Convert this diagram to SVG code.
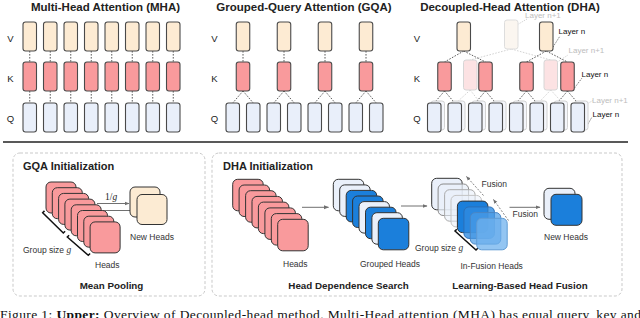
<svg xmlns="http://www.w3.org/2000/svg" width="640" height="318" viewBox="0 0 640 318">
<defs>
<style>
.v{fill:#FDEBD3;stroke:#4a4a4a;stroke-width:1.1}
.k{fill:#F99A9C;stroke:#4a4a4a;stroke-width:1.1}
.q{fill:#E9EFFA;stroke:#4a4a4a;stroke-width:1.1}
.fv{fill:#FBF6F0;stroke:#DDDDDD;stroke-width:1}
.fk{fill:#FCE2E3;stroke:#D6D6D6;stroke-width:1}
.fq{fill:#F4F6FB;stroke:#D2D2D2;stroke-width:1}
.c{stroke:#333;stroke-width:0.8;stroke-dasharray:1.6 1.4;fill:none}
.fc{stroke:#C8C8C8;stroke-width:0.8;stroke-dasharray:1.6 1.4;fill:none}
.ld{stroke:#333;stroke-width:0.8;stroke-dasharray:1 1.2;fill:none}
.lf{stroke:#BBBBBB;stroke-width:0.8;stroke-dasharray:1 1.2;fill:none}
text{font-family:"Liberation Sans",Arial,sans-serif;fill:#222}
.t{font-size:11.5px;font-weight:bold;text-anchor:middle}
.rl{font-size:9.5px;text-anchor:middle}
.ly{font-size:8px;fill:#111}
.lyf{font-size:8px;fill:#BDBDBD}
.sm{font-size:8.5px;fill:#333}
.bt{font-size:11px;font-weight:bold}
.st{font-size:9.8px;font-weight:bold;text-anchor:middle}
.panel{fill:none;stroke:#C9C9C9;stroke-width:1;stroke-dasharray:3 2}
.hr{fill:#F99A9C;stroke:#333;stroke-width:1}
.hc{fill:#FCEBD3;stroke:#333;stroke-width:1}
.hl{fill:#EAF0FA;stroke:#333;stroke-width:1}
.hb{fill:#1B7FDB;stroke:#333;stroke-width:1}
.ar{stroke:#707070;stroke-width:1;fill:none}
.fa{stroke:#777;stroke-width:0.9;stroke-dasharray:2 1.5;fill:none}
.br{stroke:#111;stroke-width:1.5;fill:none}
</style>
<marker id="ah" viewBox="0 0 10 10" refX="9" refY="5" markerWidth="5" markerHeight="5" orient="auto">
<path d="M0,1 L10,5 L0,9 z" fill="#707070"/>
</marker>
</defs>
<rect width="640" height="318" fill="#fff"/>

<!-- Titles -->
<text class="t" x="105.5" y="10.5">Multi-Head Attention (MHA)</text>
<text class="t" x="304" y="10.5">Grouped-Query Attention (GQA)</text>
<text class="t" x="510" y="10.5">Decoupled-Head Attention (DHA)</text>

<!-- row labels -->
<g id="row-labels">
<text class="rl" x="10.5" y="41.5">V</text><text class="rl" x="10.5" y="82">K</text><text class="rl" x="10.5" y="122">Q</text>
<text class="rl" x="214.5" y="41.5">V</text><text class="rl" x="214.5" y="82">K</text><text class="rl" x="214.5" y="122">Q</text>
<text class="rl" x="417" y="41.5">V</text><text class="rl" x="417" y="82">K</text><text class="rl" x="417" y="122">Q</text>
</g>

<!-- connectors -->
<g id="connectors">
<!-- MHA verticals -->
<path class="c" d="M29.75,51V62M29.75,91V103M50.25,51V62M50.25,91V103M70.75,51V62M70.75,91V103M91.25,51V62M91.25,91V103M111.75,51V62M111.75,91V103M132.25,51V62M132.25,91V103M152.75,51V62M152.75,91V103M173.25,51V62M173.25,91V103"/>
<!-- GQA -->
<path class="c" d="M243,51V62M284,51V62M325,51V62M366,51V62"/>
<path class="c" d="M243,91L232.75,103M243,91L253.25,103M284,91L273.75,103M284,91L294.25,103M325,91L314.75,103M325,91L335.25,103M366,91L355.75,103M366,91L376.25,103"/>
<!-- DHA faded -->
<path class="fc" d="M511.25,49L470.25,60M511.25,49L550.75,60M470.25,90L458.25,101M470.25,90L478.75,101M550.75,90L540.25,101M550.75,90L560.75,101"/>
<!-- DHA layer n -->
<path class="c" d="M463.75,51L444.5,62M463.75,51L485.5,62M546.25,51L526.5,62M546.25,51L567.5,62"/>
<path class="c" d="M444.5,91L434.25,103M444.5,91L454.75,103M485.5,91L475.25,103M485.5,91L495.75,103M526.5,91L516.25,103M526.5,91L536.75,103M567.5,91L557.25,103M567.5,91L577.75,103"/>
<!-- leaders -->
<path class="lf" d="M518.5,24L527,19M557.5,62L568,55M588.5,103L593,100.5"/>
<path class="ld" d="M553,47L560,36M574.5,88L582,78M584.5,130L592,117"/>
<!-- init arrows -->
<path class="ar" marker-end="url(#ah)" d="M97,203.5H129"/>
<path class="ar" marker-end="url(#ah)" d="M99,210.5H136"/>
<path class="ar" marker-end="url(#ah)" d="M302,207.3H328.5"/>
<path class="ar" marker-end="url(#ah)" d="M401,206H427"/>
<path class="ar" marker-end="url(#ah)" d="M509.5,207.3H540"/>
<path class="fa" marker-end="url(#ah)" d="M483.5,195.5L466.5,176.5"/>
<path class="fa" marker-end="url(#ah)" d="M508.5,220.5L493.5,199.5"/>
<!-- group size brackets -->
<path class="br" d="M44.5,210.9L42.7,212.7L63.3,233L65.1,231.2"/>
<path class="br" d="M69.1,235.2L67.3,237L88.3,255.3L90.1,253.5"/>
<path class="br" d="M456.8,229.2L455,231L476,250L477.8,248.2"/>
</g>

<!-- MHA nodes -->
<g id="mha">
<g id="mha-v"><rect class="v" x="23" y="22" width="13.5" height="29" rx="2.5"/><rect class="v" x="43.5" y="22" width="13.5" height="29" rx="2.5"/><rect class="v" x="64" y="22" width="13.5" height="29" rx="2.5"/><rect class="v" x="84.5" y="22" width="13.5" height="29" rx="2.5"/><rect class="v" x="105" y="22" width="13.5" height="29" rx="2.5"/><rect class="v" x="125.5" y="22" width="13.5" height="29" rx="2.5"/><rect class="v" x="146" y="22" width="13.5" height="29" rx="2.5"/><rect class="v" x="166.5" y="22" width="13.5" height="29" rx="2.5"/></g>
<g id="mha-k"><rect class="k" x="23" y="62" width="13.5" height="29" rx="2.5"/><rect class="k" x="43.5" y="62" width="13.5" height="29" rx="2.5"/><rect class="k" x="64" y="62" width="13.5" height="29" rx="2.5"/><rect class="k" x="84.5" y="62" width="13.5" height="29" rx="2.5"/><rect class="k" x="105" y="62" width="13.5" height="29" rx="2.5"/><rect class="k" x="125.5" y="62" width="13.5" height="29" rx="2.5"/><rect class="k" x="146" y="62" width="13.5" height="29" rx="2.5"/><rect class="k" x="166.5" y="62" width="13.5" height="29" rx="2.5"/></g>
<g id="mha-q"><rect class="q" x="23" y="103" width="13.5" height="29" rx="2.5"/><rect class="q" x="43.5" y="103" width="13.5" height="29" rx="2.5"/><rect class="q" x="64" y="103" width="13.5" height="29" rx="2.5"/><rect class="q" x="84.5" y="103" width="13.5" height="29" rx="2.5"/><rect class="q" x="105" y="103" width="13.5" height="29" rx="2.5"/><rect class="q" x="125.5" y="103" width="13.5" height="29" rx="2.5"/><rect class="q" x="146" y="103" width="13.5" height="29" rx="2.5"/><rect class="q" x="166.5" y="103" width="13.5" height="29" rx="2.5"/></g>
</g>

<!-- GQA nodes -->
<g id="gqa">
<g id="gqa-v"><rect class="v" x="236.25" y="22" width="13.5" height="29" rx="2.5"/><rect class="v" x="277.25" y="22" width="13.5" height="29" rx="2.5"/><rect class="v" x="318.25" y="22" width="13.5" height="29" rx="2.5"/><rect class="v" x="359.25" y="22" width="13.5" height="29" rx="2.5"/></g>
<g id="gqa-k"><rect class="k" x="236.25" y="62" width="13.5" height="29" rx="2.5"/><rect class="k" x="277.25" y="62" width="13.5" height="29" rx="2.5"/><rect class="k" x="318.25" y="62" width="13.5" height="29" rx="2.5"/><rect class="k" x="359.25" y="62" width="13.5" height="29" rx="2.5"/></g>
<g id="gqa-q"><rect class="q" x="226" y="103" width="13.5" height="29" rx="2.5"/><rect class="q" x="246.5" y="103" width="13.5" height="29" rx="2.5"/><rect class="q" x="267" y="103" width="13.5" height="29" rx="2.5"/><rect class="q" x="287.5" y="103" width="13.5" height="29" rx="2.5"/><rect class="q" x="308" y="103" width="13.5" height="29" rx="2.5"/><rect class="q" x="328.5" y="103" width="13.5" height="29" rx="2.5"/><rect class="q" x="349" y="103" width="13.5" height="29" rx="2.5"/><rect class="q" x="369.5" y="103" width="13.5" height="29" rx="2.5"/></g>
</g>

<!-- DHA nodes -->
<g id="dha">
<g id="dha-v-n1"><rect class="fv" x="504.5" y="20" width="13.5" height="29" rx="2.5"/></g>
<g id="dha-v"><rect class="v" x="457" y="22" width="13.5" height="29" rx="2.5"/><rect class="v" x="539.5" y="22" width="13.5" height="29" rx="2.5"/></g>
<g id="dha-k-n1"><rect class="fk" x="463.5" y="60" width="13.5" height="30" rx="2.5"/><rect class="fk" x="544" y="60" width="13.5" height="30" rx="2.5"/></g>
<g id="dha-k"><rect class="k" x="437.75" y="62" width="13.5" height="29" rx="2.5"/><rect class="k" x="478.75" y="62" width="13.5" height="29" rx="2.5"/><rect class="k" x="519.75" y="62" width="13.5" height="29" rx="2.5"/><rect class="k" x="560.75" y="62" width="13.5" height="29" rx="2.5"/></g>
<g id="dha-q-n1"><rect class="fq" x="431" y="101" width="13.5" height="29" rx="2.5"/><rect class="fq" x="451.5" y="101" width="13.5" height="29" rx="2.5"/><rect class="fq" x="472" y="101" width="13.5" height="29" rx="2.5"/><rect class="fq" x="492.5" y="101" width="13.5" height="29" rx="2.5"/><rect class="fq" x="513" y="101" width="13.5" height="29" rx="2.5"/><rect class="fq" x="533.5" y="101" width="13.5" height="29" rx="2.5"/><rect class="fq" x="554" y="101" width="13.5" height="29" rx="2.5"/><rect class="fq" x="574.5" y="101" width="13.5" height="29" rx="2.5"/></g>
<g id="dha-q"><rect class="q" x="427.5" y="103" width="13.5" height="29" rx="2.5"/><rect class="q" x="448" y="103" width="13.5" height="29" rx="2.5"/><rect class="q" x="468.5" y="103" width="13.5" height="29" rx="2.5"/><rect class="q" x="489" y="103" width="13.5" height="29" rx="2.5"/><rect class="q" x="509.5" y="103" width="13.5" height="29" rx="2.5"/><rect class="q" x="530" y="103" width="13.5" height="29" rx="2.5"/><rect class="q" x="550.5" y="103" width="13.5" height="29" rx="2.5"/><rect class="q" x="571" y="103" width="13.5" height="29" rx="2.5"/></g>
<g id="dha-layer-labels">
<text class="lyf" x="525" y="18">Layer n+1</text>
<text class="ly" x="558.5" y="33.5">Layer n</text>
<text class="lyf" x="568.5" y="53">Layer n+1</text>
<text class="ly" x="581.5" y="76.5">Layer n</text>
<text class="lyf" x="592" y="103">Layer n+1</text>
<text class="ly" x="592.5" y="116.5">Layer n</text>
</g>
</g>

<!-- separator -->
<line x1="3" y1="142" x2="628" y2="142" stroke="#222" stroke-width="1.3"/>

<!-- panels -->
<rect class="panel" x="13" y="153" width="192" height="143" rx="7"/>
<rect class="panel" x="212" y="153" width="410" height="143" rx="7"/>

<!-- GQA init -->
<g id="gqa-init">
<text class="bt" x="23" y="170">GQA Initialization</text>
<g id="gqa-heads">
<rect class="hr" x="46" y="182" width="30" height="31" rx="5"/>
<rect class="hr" x="52.3" y="187.7" width="30" height="31" rx="5"/>
<rect class="hr" x="58.6" y="193.4" width="30" height="31" rx="5"/>
<rect class="hr" x="64.9" y="199.1" width="30" height="31" rx="5"/>
<rect class="hr" x="71.2" y="204.8" width="30" height="31" rx="5"/>
<rect class="hr" x="77.5" y="210.5" width="30" height="31" rx="5"/>
<rect class="hr" x="83.8" y="216.2" width="30" height="31" rx="5"/>
<rect class="hr" x="90.1" y="221.9" width="30" height="31" rx="5"/>
</g>
<g id="gqa-new-heads">
<rect class="hc" x="130" y="187" width="30" height="30" rx="5"/>
<rect class="hc" x="137" y="194.5" width="30" height="30" rx="5"/>
</g>
<text x="105" y="200" style="font-family:'Liberation Serif',serif;font-size:9.5px">1/<tspan font-style="italic">g</tspan></text>
<text class="sm" x="130" y="239.5">New Heads</text>
<text class="sm" x="23" y="253">Group size <tspan style="font-family:'Liberation Serif',serif;font-style:italic;font-size:9.5px">g</tspan></text>
<text class="sm" x="95" y="268">Heads</text>
<text class="st" x="111.5" y="288.5">Mean Pooling</text>
</g>

<!-- DHA init -->
<g id="dha-init">
<text class="bt" x="223" y="170">DHA Initialization</text>
<g id="dha-heads">
<rect class="hr" x="232.7" y="179.3" width="30.5" height="31.5" rx="5"/>
<rect class="hr" x="239.1" y="185" width="30.5" height="31.5" rx="5"/>
<rect class="hr" x="245.6" y="190.7" width="30.5" height="31.5" rx="5"/>
<rect class="hr" x="252" y="196.4" width="30.5" height="31.5" rx="5"/>
<rect class="hr" x="258.4" y="202.1" width="30.5" height="31.5" rx="5"/>
<rect class="hr" x="264.9" y="207.9" width="30.5" height="31.5" rx="5"/>
<rect class="hr" x="271.3" y="213.6" width="30.5" height="31.5" rx="5"/>
<rect class="hr" x="277.7" y="219.3" width="30.5" height="31.5" rx="5"/>
</g>
<text class="sm" x="283" y="267">Heads</text>
<g id="grouped-heads">
<rect class="hl" x="333.3" y="179.3" width="30.5" height="31.5" rx="5"/>
<rect class="hl" x="339.7" y="184.9" width="30.5" height="31.5" rx="5"/>
<rect class="hb" x="346.2" y="190.4" width="30.5" height="31.5" rx="5"/>
<rect class="hb" x="352.6" y="196" width="30.5" height="31.5" rx="5"/>
<rect class="hl" x="359" y="201.6" width="30.5" height="31.5" rx="5"/>
<rect class="hb" x="365.5" y="207.2" width="30.5" height="31.5" rx="5"/>
<rect class="hl" x="371.9" y="212.7" width="30.5" height="31.5" rx="5"/>
<rect class="hb" x="378.3" y="218.3" width="30.5" height="31.5" rx="5"/>
</g>
<text class="sm" x="360" y="267">Grouped Heads</text>
<g id="in-fusion-heads">
<rect class="hl" x="431.7" y="178.3" width="30.5" height="31.5" rx="5"/>
<rect x="438.1" y="184" width="30.5" height="31.5" rx="5" fill="#EAF0FA" fill-opacity="0.75" stroke="#8a8a8a" stroke-width="1"/>
<rect x="444.6" y="189.7" width="30.5" height="31.5" rx="5" fill="#EAF0FA" fill-opacity="0.6" stroke="#aaaaaa" stroke-width="1"/>
<rect x="451" y="195.4" width="30.5" height="31.5" rx="5" fill="#EAF0FA" fill-opacity="0.5" stroke="#c4c4c4" stroke-width="1"/>
<rect class="hb" x="457.4" y="201.1" width="30.5" height="31.5" rx="5"/>
<rect x="463.9" y="206.9" width="30.5" height="31.5" rx="5" fill="#2F8BE0" fill-opacity="0.8" stroke="#2a6fb8" stroke-width="1"/>
<rect x="470.3" y="212.6" width="30.5" height="31.5" rx="5" fill="#4A9BE6" fill-opacity="0.7" stroke="#4a86c4" stroke-width="1"/>
<rect x="476.7" y="218.3" width="30.5" height="31.5" rx="5" fill="#6FB2EE" fill-opacity="0.75" stroke="#5f9bd4" stroke-width="1"/>
</g>
<text class="sm" x="481.5" y="186.5">Fusion</text>
<text class="sm" x="512.5" y="217">Fusion</text>
<text class="sm" x="415" y="251">Group size <tspan style="font-family:'Liberation Serif',serif;font-style:italic;font-size:9.5px">g</tspan></text>
<text class="sm" x="460.5" y="269">In-Fusion Heads</text>
<g id="dha-new-heads">
<rect class="hl" x="544" y="188.3" width="31" height="31" rx="5"/>
<rect class="hb" x="551" y="194.3" width="31" height="31" rx="5"/>
</g>
<text class="sm" x="544" y="240">New Heads</text>
<text class="st" x="348.5" y="288.5">Head Dependence Search</text>
<text class="st" x="520" y="288.5">Learning-Based Head Fusion</text>
</g>

<!-- caption -->
<text x="0" y="319.3" textLength="641" lengthAdjust="spacing" style="font-family:'Liberation Serif','Times New Roman',serif;font-size:13.5px;fill:#111">Figure 1: <tspan font-weight="bold">Upper:</tspan> Overview of Decoupled-head method. Multi-Head attention (MHA) has equal query, key and</text>
</svg>
